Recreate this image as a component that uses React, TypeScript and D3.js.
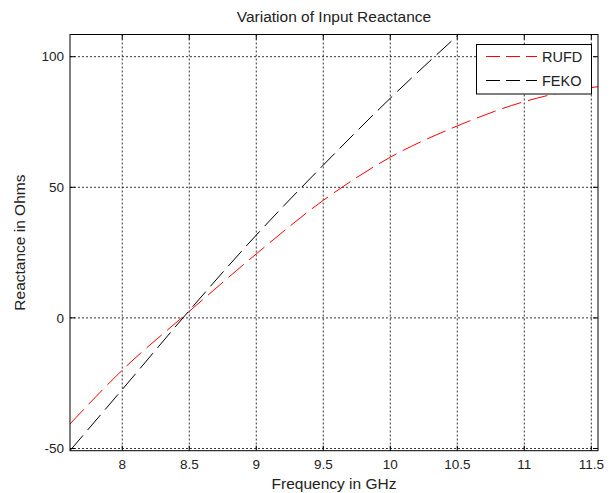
import React from 'react';
import * as d3 from 'd3';

const freqRUFD = [7.61, 8.0, 8.5, 9.0, 9.5, 10.0, 10.5, 11.0, 11.5, 11.55];
const reactRUFD = [-40.6, -20.0, 2.5, 24.5, 45.0, 61.5, 73.5, 82.8, 88.2, 88.5];
const freqFEKO = [7.61, 8.0, 8.5, 9.0, 9.5, 10.0, 10.5];
const reactFEKO = [-50.8, -27.4, 2.8, 31.7, 58.5, 84.1, 108.0];
const xTicks = [8, 8.5, 9, 9.5, 10, 10.5, 11, 11.5];
const yTicks = [-50, 0, 50, 100];
const legendLabels = ['RUFD', 'FEKO'];

const W = 616, H = 493;
const L = 70, R = 598, T = 34.5, B = 450.7;
const FONT = 'Arial, "Liberation Sans", Helvetica, sans-serif';

export default function App() {
  const x = d3.scaleLinear().domain([7.61, 11.55]).range([L, R]);
  const y = d3.scaleLinear().domain([-50.84, 108.5]).range([B, T]);
  const line = d3.line<[number, number]>().x(d => x(d[0])).y(d => y(d[1])).curve(d3.curveMonotoneX);
  const rufd = freqRUFD.map((f, i) => [f, reactRUFD[i]] as [number, number]);
  const feko = freqFEKO.map((f, i) => [f, reactFEKO[i]] as [number, number]);
  const series = [
    { name: legendLabels[0], data: rufd, color: '#ff0000' },
    { name: legendLabels[1], data: feko, color: '#000000' },
  ];
  const tick = 5;
  return (
    <svg width={W} height={H} style={{ position: 'absolute', left: 0, top: 0, background: '#fff' }} fontFamily={FONT}>
      <rect x={0} y={0} width={W} height={H} fill="#fff" />
      <defs>
        <clipPath id="plot"><rect x={L} y={T} width={R - L} height={B - T} /></clipPath>
      </defs>
      {/* grid */}
      {xTicks.map(t => (
        <line key={'gx' + t} x1={x(t)} x2={x(t)} y1={T} y2={B} stroke="#000" strokeWidth={0.8} strokeDasharray="2,2" />
      ))}
      {yTicks.map(t => (
        <line key={'gy' + t} x1={L} x2={R} y1={y(t)} y2={y(t)} stroke="#000" strokeWidth={0.8} strokeDasharray="2,2" />
      ))}
      {/* ticks */}
      {xTicks.map(t => (
        <g key={'tx' + t}>
          <line x1={x(t)} x2={x(t)} y1={B} y2={B - tick} stroke="#000" />
          <line x1={x(t)} x2={x(t)} y1={T} y2={T + tick} stroke="#000" />
          <text x={x(t)} y={469} textAnchor="middle" fontSize={13.5} fill="#222">{t}</text>
        </g>
      ))}
      {yTicks.map(t => (
        <g key={'ty' + t}>
          <line x1={L} x2={L + tick} y1={y(t)} y2={y(t)} stroke="#000" />
          <line x1={R} x2={R - tick} y1={y(t)} y2={y(t)} stroke="#000" />
          <text x={64} y={y(t)} dy="0.35em" textAnchor="end" fontSize={13.5} fill="#222">{t}</text>
        </g>
      ))}
      {/* curves */}
      <g clipPath="url(#plot)">
        {series.map(s => (
          <path key={s.name} d={line(s.data) || ''} fill="none" stroke={s.color} strokeWidth={1} strokeDasharray="20,7" />
        ))}
      </g>
      {/* box */}
      <rect x={L} y={T} width={R - L} height={B - T} fill="none" stroke="#000" strokeWidth={1} />
      {/* legend */}
      <rect x={476.5} y={44.5} width={115} height={49.5} fill="#fff" stroke="#000" strokeWidth={1} />
      {series.map((s, i) => (
        <g key={'lg' + s.name}>
          <line x1={486} x2={537} y1={56.5 + i * 24} y2={56.5 + i * 24} stroke={s.color} strokeWidth={1} strokeDasharray="14,6" />
          <text x={542} y={56.5 + i * 24} dy="0.35em" fontSize={14.5} fill="#222">{s.name}</text>
        </g>
      ))}
      {/* labels */}
      <text x={(L + R) / 2} y={22} textAnchor="middle" fontSize={15.5} fill="#222">Variation of Input Reactance</text>
      <text x={(L + R) / 2} y={489} textAnchor="middle" fontSize={15.5} fill="#222">Frequency in GHz</text>
      <text transform={`translate(25,${(T + B) / 2}) rotate(-90)`} textAnchor="middle" fontSize={15.5} fill="#222">Reactance in Ohms</text>
    </svg>
  );
}
